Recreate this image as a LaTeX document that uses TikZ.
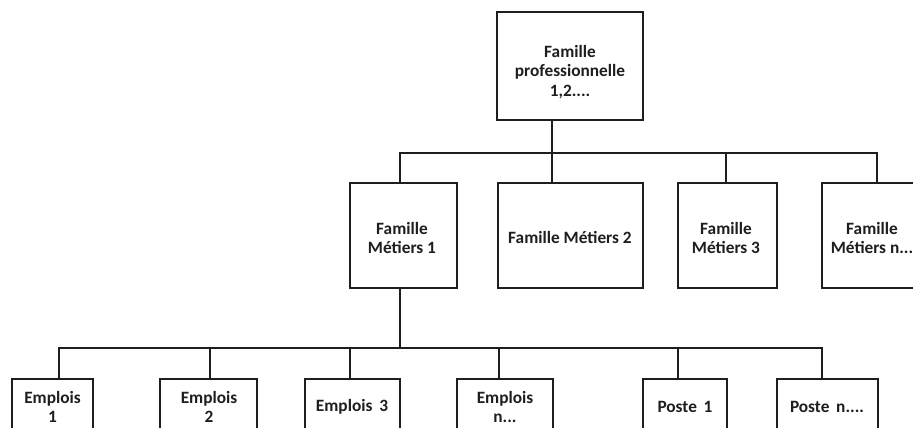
\documentclass[tikz,border=0pt]{standalone}
\usepackage{fontspec}
\setmainfont{Carlito}
\definecolor{ink}{RGB}{30,30,30}
\begin{document}
\begin{tikzpicture}[x=1pt,y=-1pt,
  box/.style={draw=ink,line width=2.3pt,inner sep=0pt,fill=white},
  lbl/.style={font=\bfseries\fontsize{17.3}{19.8}\selectfont,text=ink,align=center,inner sep=0pt},
  wire/.style={draw=ink,line width=2.2pt}]
\useasboundingbox (0,0) rectangle (913,428);
\clip (0,0) rectangle (913,428);
\fill[white] (0,0) rectangle (913,428);
% top
\node[box,minimum width=146pt,minimum height=108pt] (top) at (570,66) {};
\node[lbl] (ttop) at (570,72) {Famille\\professionnelle\\1,2....};
% level 2
\node[box,minimum width=107pt,minimum height=105pt] (fm1) at (403.5,235.5) {};
\node[box,minimum width=145pt,minimum height=105pt] (fm2) at (570.5,235.5) {};
\node[box,minimum width=99pt,minimum height=105pt] (fm3) at (727.5,235.5) {};
\node[box,minimum width=100pt,minimum height=105pt] (fmn) at (872,235.5) {};
\node[lbl] (tfm1) at (402,238) {Famille\\Métiers 1};
\node[lbl] (tfm2) at (570,237) {Famille Métiers 2};
\node[lbl] (tfm3) at (726,238) {Famille\\Métiers 3};
\node[lbl] (tfmn) at (872,238) {Famille\\Métiers n...};
% level 3
\node[box,minimum width=81pt,minimum height=61pt] (e1) at (52.5,409.5) {};
\node[box,minimum width=97pt,minimum height=61pt] (e2) at (208.5,409.5) {};
\node[box,minimum width=95pt,minimum height=61pt] (e3) at (352.5,409.5) {};
\node[box,minimum width=96pt,minimum height=61pt] (en) at (505,409.5) {};
\node[box,minimum width=84pt,minimum height=61pt] (p1) at (685,409.5) {};
\node[box,minimum width=101pt,minimum height=61pt] (pn) at (827.5,409.5) {};
\node[lbl] (te1) at (52.5,407) {Emplois\\1};
\node[lbl] (te2) at (209,407) {Emplois\\2};
\node[lbl] (te3) at (352,407) {Emplois\, 3};
\node[lbl] (ten) at (505,407) {Emplois\\n...};
\node[lbl] (tp1) at (685,407) {Poste\, 1};
\node[lbl] (tpn) at (827,407) {Poste\, n....};
% connectors level 1-2
\coordinate (s0) at (552,153);
\coordinate (j1) at (400,153);
\coordinate (j3) at (726,153);
\coordinate (jn) at (877,153);
\draw[wire] (top.south -| s0) -- (fm2.north -| s0);
\draw[wire] (fm1.north -| j1) -- (j1) -- (jn) -- (fmn.north -| jn);
\draw[wire] (j3) -- (fm3.north -| j3);
% connectors level 2-3
\coordinate (k0) at (400,348);
\coordinate (ka) at (59,348);
\coordinate (kb) at (210,348);
\coordinate (kc) at (350,348);
\coordinate (kd) at (499,348);
\coordinate (ke) at (678,348);
\coordinate (kf) at (822,348);
\draw[wire] (fm1.south -| k0) -- (k0);
\draw[wire] (e1.north -| ka) -- (ka) -- (kf) -- (pn.north -| kf);
\draw[wire] (kb) -- (e2.north -| kb);
\draw[wire] (kc) -- (e3.north -| kc);
\draw[wire] (kd) -- (en.north -| kd);
\draw[wire] (ke) -- (p1.north -| ke);
\end{tikzpicture}
\end{document}
